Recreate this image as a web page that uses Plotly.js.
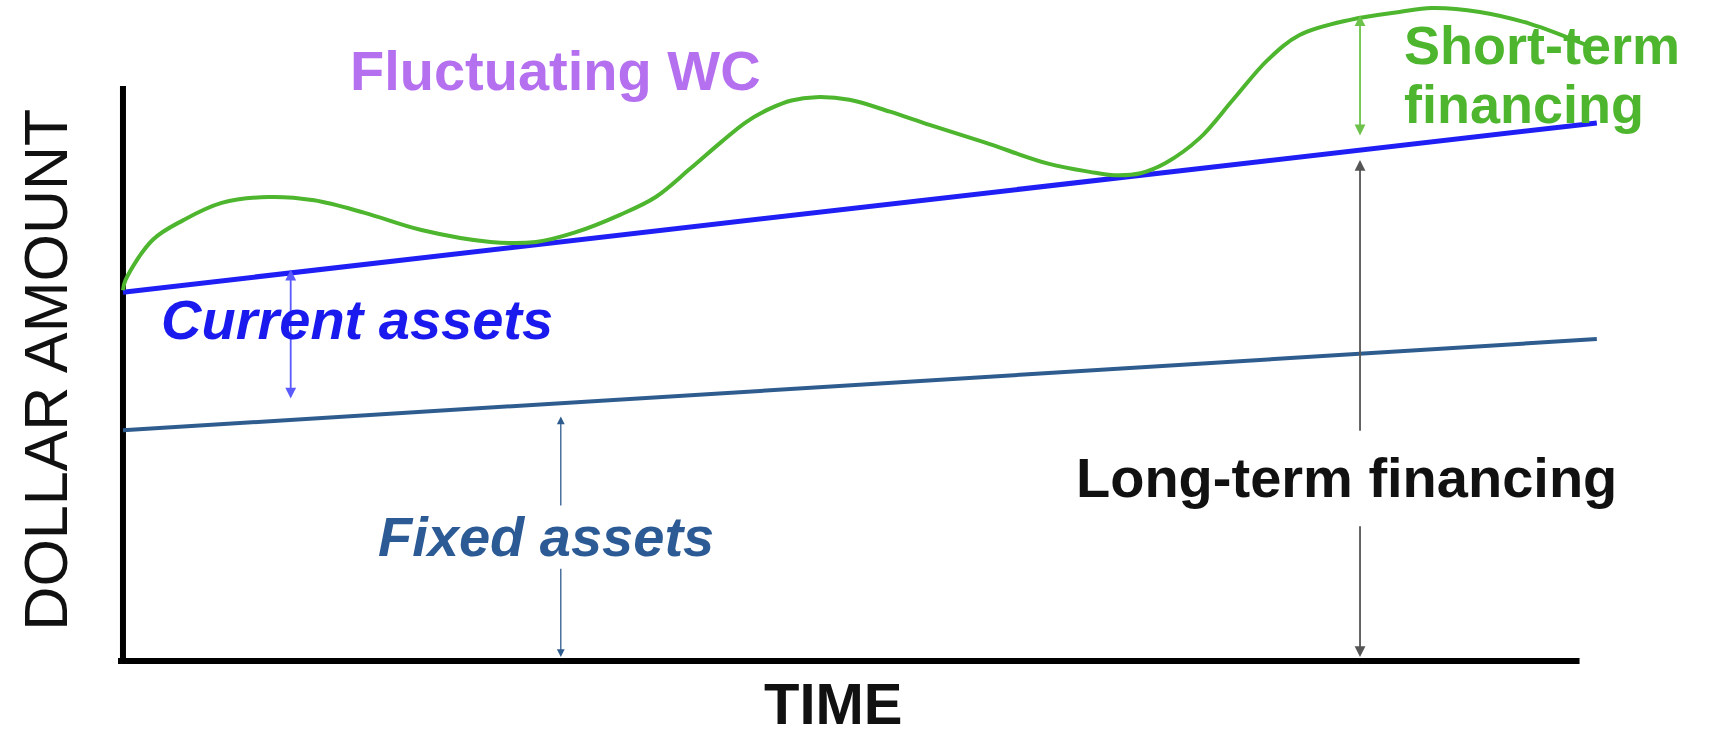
<!DOCTYPE html>
<html>
<head>
<meta charset="utf-8">
<script src="https://cdn.plot.ly/plotly-3.0.1.min.js"></script>
<style>html,body{margin:0;padding:0;background:#fff;}#chart{width:1713px;height:741px;}</style>
</head>
<body>
<div id="chart"></div>
<script>
// ---- data (time units on x, dollar amount on y) ----
var fluctTime = [0, 0.02, 0.24, 0.49, 0.80, 1.18, 1.55, 1.96, 2.42, 2.98, 3.35, 3.66, 4.03, 4.32, 4.60, 4.85, 5.05, 5.25, 5.42, 5.62, 5.89, 6.22, 6.54, 6.98, 7.51, 7.84, 8.04, 8.25, 8.45, 8.73, 9.00, 9.28, 9.54, 9.95, 10.35, 10.61, 11.00, 11.41, 11.89];
var fluctValue = [5.61, 5.76, 6.37, 6.67, 6.93, 7.02, 6.97, 6.78, 6.52, 6.34, 6.34, 6.48, 6.75, 7.02, 7.45, 7.85, 8.15, 8.36, 8.48, 8.53, 8.49, 8.31, 8.11, 7.85, 7.52, 7.40, 7.35, 7.38, 7.53, 7.91, 8.49, 9.09, 9.47, 9.70, 9.82, 9.88, 9.82, 9.64, 9.30];
var currentTime = [0, 11.95];
var currentValue = [5.58, 8.14];
var fixedTime = [0, 11.95];
var fixedValue = [3.49, 4.87];
var axisTimeEnd = 11.81;
var axisValueTop = 8.70;
var arrowTimeCurrent = 1.36;
var arrowTimeFixed = 3.55;
var arrowTimeFinancing = 10.03;
var labels = {
  fluct: "Fluctuating WC",
  current: "Current assets",
  fixed: "Fixed assets",
  longTerm: "Long-term financing",
  shortTerm1: "Short-term",
  shortTerm2: "financing",
  yTitle: "DOLLAR AMOUNT",
  xTitle: "TIME"
};

function lineAt(ts, vs, t) {
  var f = (t - ts[0]) / (ts[1] - ts[0]);
  return vs[0] + f * (vs[1] - vs[0]);
}

var FONT = "Liberation Sans, Arial, sans-serif";
var traces = [
  {x: [0, 0], y: [0, axisValueTop], mode: 'lines', line: {color: '#000', width: 6}, hoverinfo: 'skip'},
  {x: [-0.04, axisTimeEnd], y: [0, 0], mode: 'lines', line: {color: '#000', width: 6}, hoverinfo: 'skip'},
  {x: fixedTime, y: fixedValue, mode: 'lines', line: {color: '#2E5C8E', width: 4}, hoverinfo: 'skip'},
  {x: currentTime, y: currentValue, mode: 'lines', line: {color: '#1F1FF5', width: 5}, hoverinfo: 'skip'},
  {x: fluctTime, y: fluctValue, mode: 'lines', line: {color: '#4DB62E', width: 4, shape: 'spline', smoothing: 1}, hoverinfo: 'skip'}
];

function arrow(x, y0, y1, color, width, side) {
  return {x: x, y: y1, ax: x, ay: y0, xref: 'x', yref: 'y', axref: 'x', ayref: 'y',
    text: '', showarrow: true, arrowhead: 2, startarrowhead: 2, arrowsize: 1.2, startarrowsize: 1.2,
    arrowwidth: width, arrowcolor: color, arrowside: side, standoff: 0, startstandoff: 0};
}

var cTop = lineAt(currentTime, currentValue, arrowTimeCurrent);
var cBot = lineAt(fixedTime, fixedValue, arrowTimeCurrent);
var fTop = lineAt(fixedTime, fixedValue, arrowTimeFixed);
var lTop = lineAt(currentTime, currentValue, arrowTimeFinancing);

var annotations = [
  arrow(arrowTimeCurrent, cBot + 0.3, cTop + 0.05, '#5A5AFF', 1.8, 'end+start'),
  arrow(arrowTimeFixed, 2.33, fTop - 0.2, '#2E5C8E', 1.3, 'end'),
  arrow(arrowTimeFixed, 1.42, 0.06, '#2E5C8E', 1.3, 'end'),
  arrow(arrowTimeFinancing, 3.46, lTop - 0.15, '#555', 1.8, 'end'),
  arrow(arrowTimeFinancing, 2.06, 0.06, '#555', 1.8, 'end'),
  arrow(arrowTimeFinancing, lTop + 0.2, 9.77, '#6CC24A', 1.8, 'end+start'),
  {x: 3.51, y: 8.93, xref: 'x', yref: 'y', text: '<b>' + labels.fluct + '</b>', showarrow: false,
    font: {family: FONT, size: 56, color: '#B570F0'}},
  {x: 1.90, y: 5.17, xref: 'x', yref: 'y', text: '<b><i>' + labels.current + '</i></b>', showarrow: false,
    font: {family: FONT, size: 56, color: '#1A1AEE'}},
  {x: 3.43, y: 1.89, xref: 'x', yref: 'y', text: '<b><i>' + labels.fixed + '</i></b>', showarrow: false,
    font: {family: FONT, size: 56, color: '#2B5A94'}},
  {x: 9.92, y: 2.77, xref: 'x', yref: 'y', text: '<b>' + labels.longTerm + '</b>', showarrow: false,
    font: {family: FONT, size: 56, color: '#111'}},
  {x: 10.37, y: 9.32, xref: 'x', yref: 'y', xanchor: 'left', align: 'left', text: '<b>' + labels.shortTerm1 + '</b>', showarrow: false,
    font: {family: FONT, size: 54, color: '#4DB62E'}},
  {x: 10.37, y: 8.42, xref: 'x', yref: 'y', xanchor: 'left', align: 'left', text: '<b>' + labels.shortTerm2 + '</b>', showarrow: false,
    font: {family: FONT, size: 54, color: '#4DB62E'}},
  {x: -0.62, y: 4.40, xref: 'x', yref: 'y', text: labels.yTitle, textangle: -90, showarrow: false,
    font: {family: FONT, size: 61, color: '#111'}},
  {x: 5.76, y: -0.64, xref: 'x', yref: 'y', text: '<b>' + labels.xTitle + '</b>', showarrow: false,
    font: {family: FONT, size: 58, color: '#111'}}
];

var layout = {
  width: 1713, height: 741,
  margin: {l: 0, r: 0, t: 0, b: 0},
  paper_bgcolor: '#fff', plot_bgcolor: '#fff',
  showlegend: false,
  xaxis: {range: [-0.997, 12.892], visible: false, fixedrange: true},
  yaxis: {range: [-1.210, 10.0], visible: false, fixedrange: true},
  annotations: annotations
};

Plotly.newPlot('chart', traces, layout, {staticPlot: true});
</script>
</body>
</html>
